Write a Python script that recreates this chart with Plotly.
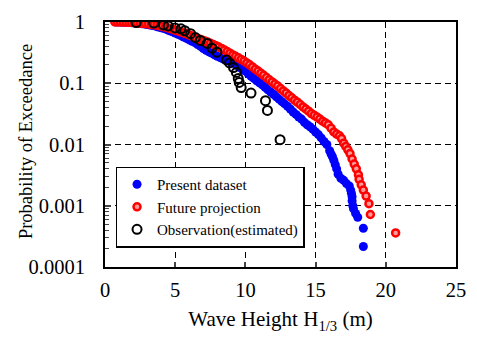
import plotly.graph_objects as go

present_x = [0.8, 1.0, 1.2, 1.4, 1.6, 1.8, 2.0, 2.2, 2.4, 2.6, 2.8, 3.0, 3.2, 3.4, 3.6, 3.8, 4.0, 4.2,
             4.4, 4.6, 4.8, 5.0, 5.2, 5.4, 5.6, 5.8, 6.0, 6.2, 6.4, 6.6, 6.8, 7.0, 7.2, 7.4, 7.6, 7.8,
             8.0, 8.2, 8.4, 8.6, 8.8, 9.0, 9.2, 9.4, 9.6, 9.8, 10.0, 10.2, 10.4, 10.6, 10.8, 11.0,
             11.2, 11.4, 11.6, 11.8, 12.0, 12.2, 12.4, 12.6, 12.8, 13.0, 13.2, 13.4, 13.6, 13.8,
             14.0, 14.2, 14.4, 14.6, 14.8, 15.0, 15.2, 15.4, 15.6, 15.8, 16.0, 16.1, 16.2, 16.3,
             16.4, 16.5, 16.6, 16.8, 17.0, 17.2, 17.4, 17.5, 17.55, 17.6, 17.6, 17.65, 17.7, 17.85,
             18.0, 18.4, 18.4]
present_p = [1.0, 0.998, 0.995, 0.99, 0.985, 0.98, 0.97, 0.96, 0.95, 0.94, 0.925, 0.91, 0.895,
             0.875, 0.855, 0.83, 0.805, 0.78, 0.75, 0.72, 0.69, 0.66, 0.63, 0.60, 0.57, 0.54, 0.51,
             0.485, 0.46, 0.43, 0.40, 0.37, 0.345, 0.325, 0.31, 0.29, 0.275, 0.262, 0.25, 0.24,
             0.23, 0.22, 0.21, 0.195, 0.18, 0.168, 0.158, 0.143, 0.13, 0.12, 0.11, 0.102, 0.094,
             0.086, 0.078, 0.072, 0.066, 0.06, 0.055, 0.05, 0.046, 0.042, 0.038, 0.034, 0.031,
             0.028, 0.026, 0.023, 0.021, 0.0195, 0.0178, 0.016, 0.0145, 0.0128, 0.0112, 0.01,
             0.0079, 0.007, 0.0063, 0.0055, 0.0047, 0.004, 0.0033, 0.0028, 0.0026, 0.0023, 0.0021,
             0.0018, 0.0016, 0.0014, 0.0012, 0.001, 0.00089, 0.00075, 0.00065, 0.00043, 0.000216]

future_x = [0.7, 0.9, 1.1, 1.3, 1.5, 1.7, 1.9, 2.1, 2.3, 2.5, 2.7, 2.9, 3.1, 3.3, 3.5, 3.7, 3.9, 4.1,
            4.3, 4.5, 4.7, 4.9, 5.1, 5.3, 5.5, 5.7, 5.9, 6.1, 6.3, 6.5, 6.7, 6.9, 7.1, 7.3, 7.5, 7.7,
            7.9, 8.1, 8.3, 8.5, 8.7, 8.9, 9.1, 9.3, 9.5, 9.7, 9.9, 10.1, 10.3, 10.5, 10.7, 10.9,
            11.1, 11.3, 11.5, 11.7, 11.9, 12.1, 12.3, 12.5, 12.7, 12.9, 13.1, 13.3, 13.5, 13.7,
            13.9, 14.1, 14.3, 14.5, 14.7, 14.9, 15.1, 15.3, 15.5, 15.7, 15.9, 16.1, 16.3, 16.5,
            16.7, 16.85, 17.0, 17.15, 17.3, 17.45, 17.6, 17.75, 17.9, 18.05, 18.1, 18.25, 18.4,
            18.6, 18.8, 18.9, 20.7]
future_p = [1.0, 1.0, 1.0, 0.998, 0.995, 0.99, 0.985, 0.978, 0.97, 0.96, 0.95, 0.94, 0.93, 0.915,
            0.90, 0.885, 0.865, 0.845, 0.825, 0.80, 0.775, 0.75, 0.725, 0.70, 0.675, 0.65, 0.625,
            0.60, 0.575, 0.55, 0.53, 0.51, 0.49, 0.47, 0.45, 0.43, 0.41, 0.39, 0.37, 0.35, 0.33,
            0.31, 0.29, 0.275, 0.26, 0.245, 0.23, 0.215, 0.20, 0.185, 0.17, 0.158, 0.146, 0.135,
            0.124, 0.114, 0.105, 0.097, 0.09, 0.082, 0.075, 0.069, 0.063, 0.058, 0.053, 0.049,
            0.045, 0.041, 0.038, 0.035, 0.032, 0.030, 0.028, 0.026, 0.024, 0.0225, 0.021, 0.0185,
            0.016, 0.0148, 0.0139, 0.0125, 0.0105, 0.0093, 0.0082, 0.0071, 0.0058, 0.0048, 0.004,
            0.0032, 0.0027, 0.0022, 0.0018, 0.00144, 0.00108, 0.00072, 0.00036]

obs_x = [2.22, 3.47, 4.16, 4.5, 4.99, 5.41, 5.68, 6.1, 6.44, 6.79, 7.28, 7.62, 7.97, 8.66, 8.87,
         9.15, 9.36, 9.49, 9.56, 9.7, 10.4, 11.43, 11.57, 12.47]
obs_p = [0.98, 0.96, 0.896, 0.864, 0.80, 0.774, 0.72, 0.645, 0.557, 0.50, 0.447, 0.373, 0.322, 0.24,
         0.215, 0.18, 0.15, 0.12, 0.103, 0.085, 0.069, 0.052, 0.036, 0.012]

x_ticks = [0, 5, 10, 15, 20, 25]
y_ticks = [1, 0.1, 0.01, 0.001, 0.0001]
y_labels = ["1", "0.1", "0.01", "0.001", "0.0001"]

FONT = "Liberation Serif"

fig = go.Figure()
fig.add_trace(go.Scatter(x=present_x, y=present_p, mode="markers", name="Present dataset",
                         legendgroup="a",
                         marker=dict(color="#0000ff", size=9, line=dict(width=0))))
fig.add_trace(go.Scatter(x=future_x, y=future_p, mode="markers", name="Future projection",
                         legendgroup="b",
                         marker=dict(color="#ff9a9a", size=7, line=dict(color="#ff0000", width=2.5))))
fig.add_trace(go.Scatter(x=obs_x, y=obs_p, mode="markers", name="Observation(estimated)",
                         legendgroup="c",
                         marker=dict(color="rgba(0,0,0,0)", size=9, line=dict(color="black", width=2))))

fig.update_layout(
    width=477, height=338,
    margin=dict(l=105, r=11, t=16, b=70),
    paper_bgcolor="white", plot_bgcolor="white",
    font=dict(family=FONT, size=20, color="black"),
    showlegend=True,
    legend=dict(x=0.03, y=0.41, xanchor="left", yanchor="top",
                bordercolor="black", borderwidth=1.5, bgcolor="white",
                font=dict(family=FONT, size=15, color="black"),
                traceorder="grouped", tracegroupgap=0),
    annotations=[dict(text="Probability of Exceedance", textangle=-90, xref="paper", yref="paper",
                      x=-0.225, y=0.51, xanchor="center", yanchor="middle", showarrow=False,
                      font=dict(family=FONT, size=18.5, color="black"))],
)
fig.update_xaxes(range=[0, 25], tickvals=x_ticks, ticks="inside", ticklen=5, tickwidth=1.5,
                 tickfont=dict(family=FONT, size=20.5),
                 showline=True, linewidth=2, linecolor="black", mirror=True,
                 showgrid=True, gridcolor="black", gridwidth=1.2, griddash="6px,4px",
                 zeroline=False, ticklabelstandoff=3,
                 title=dict(text="Wave Height H<sub>1/3</sub> (m)", standoff=12,
                            font=dict(family=FONT, size=21)))
fig.update_yaxes(type="log", range=[-4, 0], tickvals=y_ticks, ticktext=y_labels,
                 ticks="inside", ticklen=6, tickwidth=1.5,
                 tickfont=dict(family=FONT, size=20.5),
                 minor=dict(ticks="inside", ticklen=4, tickwidth=1, dtick="D1", showgrid=False),
                 showline=True, linewidth=2, linecolor="black", mirror=True,
                 showgrid=True, gridcolor="black", gridwidth=1.2, griddash="6px,4px",
                 zeroline=False, ticklabelstandoff=14)

fig.write_html("out.html")
